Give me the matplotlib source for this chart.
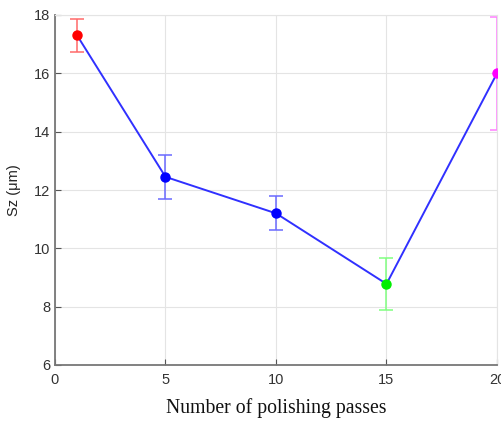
import matplotlib
matplotlib.use("Agg")
import matplotlib.pyplot as plt

# Surface roughness Sz versus polishing passes
passes = [1, 5, 10, 15, 20]
sz_mean = [17.3, 12.45, 11.2, 8.78, 16.0]
sz_err = [0.57, 0.75, 0.58, 0.9, 1.94]
point_colors = ["#ff0000", "#0000ff", "#0000ff", "#00ee00", "#ff00ff"]
bar_colors = ["#ff6a6a", "#6a6aff", "#6a6aff", "#80ff80", "#ff7fff"]

xticks = [0, 5, 10, 15, 20]
yticks = [6, 8, 10, 12, 14, 16, 18]

fig = plt.figure(figsize=(5.02, 4.21), dpi=100)
ax = fig.add_axes([55 / 502, 56 / 421, 442 / 502, 350 / 421])

ax.plot(passes, sz_mean, color="#3030ff", lw=1.4, zorder=3)
for x, y, e, c, bc in zip(passes, sz_mean, sz_err, point_colors, bar_colors):
    ax.errorbar(x, y, yerr=e, fmt="none", ecolor=bc, elinewidth=1.1,
                capsize=5, capthick=1.1, zorder=2)
    ax.plot(x, y, "o", color=c, ms=6.5, zorder=4)

ax.set_xlim(0, 20)
ax.set_ylim(6, 18)
ax.set_xticks(xticks)
ax.set_yticks(yticks)
ax.grid(True, color="#e4e4e4", lw=0.8)
ax.set_axisbelow(True)
ax.tick_params(direction="in", length=4, color="#555555",
               labelsize=10.5, labelcolor="#333333", top=False, right=False)
ax.tick_params(axis="x", pad=6)
for lbl in ax.get_xticklabels() + ax.get_yticklabels():
    lbl.set_family("Liberation Sans")
for side in ("left", "bottom"):
    ax.spines[side].set_color("#777777")
    ax.spines[side].set_linewidth(1.3)
for side in ("top", "right"):
    ax.spines[side].set_color("#e4e4e4")
    ax.spines[side].set_linewidth(0.8)

ax.set_ylabel("Sz (μm)", fontsize=10.5, color="#222222", labelpad=9,
              family="Liberation Sans")
ax.set_xlabel("Number of polishing passes", fontsize=14.2, color="#111111",
              family="Liberation Serif", labelpad=8)

fig.savefig("out.png", dpi=100)
